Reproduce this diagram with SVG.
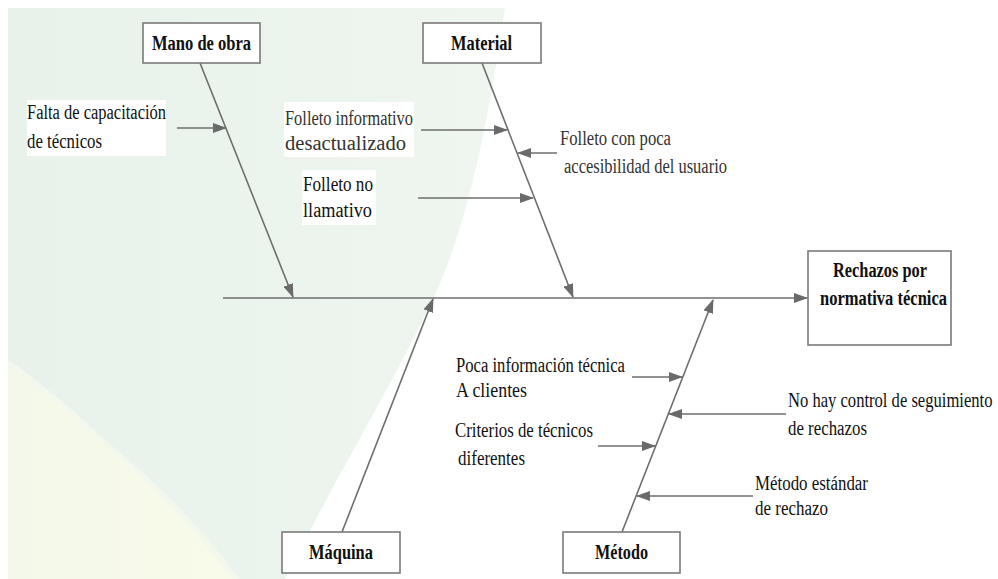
<svg xmlns="http://www.w3.org/2000/svg" width="998" height="579" viewBox="0 0 998 579">
<defs>
<linearGradient id="gGreen" x1="0" y1="0" x2="1" y2="0">
<stop offset="0" stop-color="#e8f2ea"/>
<stop offset="1" stop-color="#eef6ef"/>
</linearGradient>
<linearGradient id="gYellow" x1="0" y1="0" x2="1" y2="0">
<stop offset="0" stop-color="#f4f8ea"/>
<stop offset="1" stop-color="#f8fbe9"/>
</linearGradient>
<marker id="ah" viewBox="0 0 14 10" refX="13" refY="5" markerWidth="14" markerHeight="10" markerUnits="userSpaceOnUse" orient="auto">
<path d="M0,0 L14,5 L0,10 Z" fill="#6a6a6a"/>
</marker>
<style>
.ar{stroke:#6e6e6e;stroke-width:1.6;fill:none;marker-end:url(#ah)}
.box{fill:#fff;stroke:#7a7a7a;stroke-width:1.6}
text{font-family:'Liberation Serif','Times New Roman','DejaVu Serif',serif;font-size:20px}
.bl{font-weight:bold;fill:#111}
.tx{fill:#111}
.tg{fill:#333}
.wb{fill:#fff}
</style>
</defs>
<g id="background">
<rect x="0" y="0" width="998" height="579" fill="#fff"/>
<path d="M8,8 L505,8 C490,110 470,220 433,299 C395,380 340,470 285,579 L8,579 Z" fill="url(#gGreen)"/>
<path d="M8,360 C60,395 100,437 140,470 C175,500 210,540 240,579 L8,579 Z" fill="#f3f8ef"/>
<path d="M8,366 C60,400 100,442 138,474 C172,504 205,543 232,579 L8,579 Z" fill="url(#gYellow)"/>
<rect x="27" y="100" width="139" height="56" class="wb"/>
<rect x="284" y="102" width="130" height="55" class="wb"/>
<rect x="302" y="170" width="74" height="55" class="wb"/>
</g>
<g id="connectors">
<path class="ar" d="M223,298 H807"/>
<path class="ar" d="M200,63 L293,297"/>
<path class="ar" d="M482,63 L573,297"/>
<path class="ar" d="M342,532 L433,299"/>
<path class="ar" d="M622,532 L713,300"/>
<path class="ar" d="M177,128 H226"/>
<path class="ar" d="M421,130 H507"/>
<path class="ar" d="M418,198 H533"/>
<path class="ar" d="M557,153 H518"/>
<path class="ar" d="M632,377 H682"/>
<path class="ar" d="M598,446 H655"/>
<path class="ar" d="M786,414 H669"/>
<path class="ar" d="M753,496 H637"/>
</g>
<g id="mano-de-obra">
<rect class="box" x="143" y="23" width="117" height="40"/>
<text class="bl" x="152" y="50" textLength="99" lengthAdjust="spacingAndGlyphs">Mano de obra</text>
</g>
<g id="material">
<rect class="box" x="423" y="23" width="118" height="40"/>
<text class="bl" x="451" y="50" textLength="61" lengthAdjust="spacingAndGlyphs">Material</text>
</g>
<g id="maquina">
<rect class="box" x="282" y="532" width="118" height="41"/>
<text class="bl" x="309" y="559" textLength="64" lengthAdjust="spacingAndGlyphs">Máquina</text>
</g>
<g id="metodo">
<rect class="box" x="563" y="532" width="117" height="41"/>
<text class="bl" x="595" y="559" textLength="53" lengthAdjust="spacingAndGlyphs">Método</text>
</g>
<g id="efecto">
<rect class="box" x="808" y="251" width="143" height="94"/>
<text class="bl" x="833" y="277" textLength="94" lengthAdjust="spacingAndGlyphs">Rechazos por</text>
<text class="bl" x="820" y="305" textLength="127" lengthAdjust="spacingAndGlyphs">normativa técnica</text>
</g>
<g id="causa-falta-capacitacion">
<text class="tx" x="27" y="119" textLength="139" lengthAdjust="spacingAndGlyphs">Falta de capacitación</text>
<text class="tx" x="27" y="148" textLength="75" lengthAdjust="spacingAndGlyphs">de técnicos</text>
</g>
<g id="causa-folleto-desactualizado">
<text class="tg" x="285" y="125" textLength="128" lengthAdjust="spacingAndGlyphs">Folleto informativo</text>
<text class="tg" x="285" y="150" textLength="121" lengthAdjust="spacingAndGlyphs">desactualizado</text>
</g>
<g id="causa-folleto-no-llamativo">
<text class="tx" x="303" y="191" textLength="70" lengthAdjust="spacingAndGlyphs">Folleto no</text>
<text class="tx" x="303" y="217" textLength="69" lengthAdjust="spacingAndGlyphs">llamativo</text>
</g>
<g id="causa-folleto-accesibilidad">
<text class="tg" x="560" y="145" textLength="111" lengthAdjust="spacingAndGlyphs">Folleto con poca</text>
<text class="tg" x="564" y="173" textLength="163" lengthAdjust="spacingAndGlyphs">accesibilidad del usuario</text>
</g>
<g id="causa-poca-informacion">
<text class="tx" x="456" y="372" textLength="169" lengthAdjust="spacingAndGlyphs">Poca información técnica</text>
<text class="tx" x="456" y="397" textLength="71" lengthAdjust="spacingAndGlyphs">A clientes</text>
</g>
<g id="causa-criterios">
<text class="tx" x="455" y="437" textLength="138" lengthAdjust="spacingAndGlyphs">Criterios de técnicos</text>
<text class="tx" x="458" y="465" textLength="67" lengthAdjust="spacingAndGlyphs">diferentes</text>
</g>
<g id="causa-no-control">
<text class="tx" transform="translate(788,407) scale(0.83,1)" x="0" y="0">No hay control de seguimiento</text>
<text class="tx" x="788" y="435" textLength="79" lengthAdjust="spacingAndGlyphs">de rechazos</text>
</g>
<g id="causa-metodo-estandar">
<text class="tx" x="755" y="490" textLength="113" lengthAdjust="spacingAndGlyphs">Método estándar</text>
<text class="tx" x="755" y="515" textLength="73" lengthAdjust="spacingAndGlyphs">de rechazo</text>
</g>
</svg>
